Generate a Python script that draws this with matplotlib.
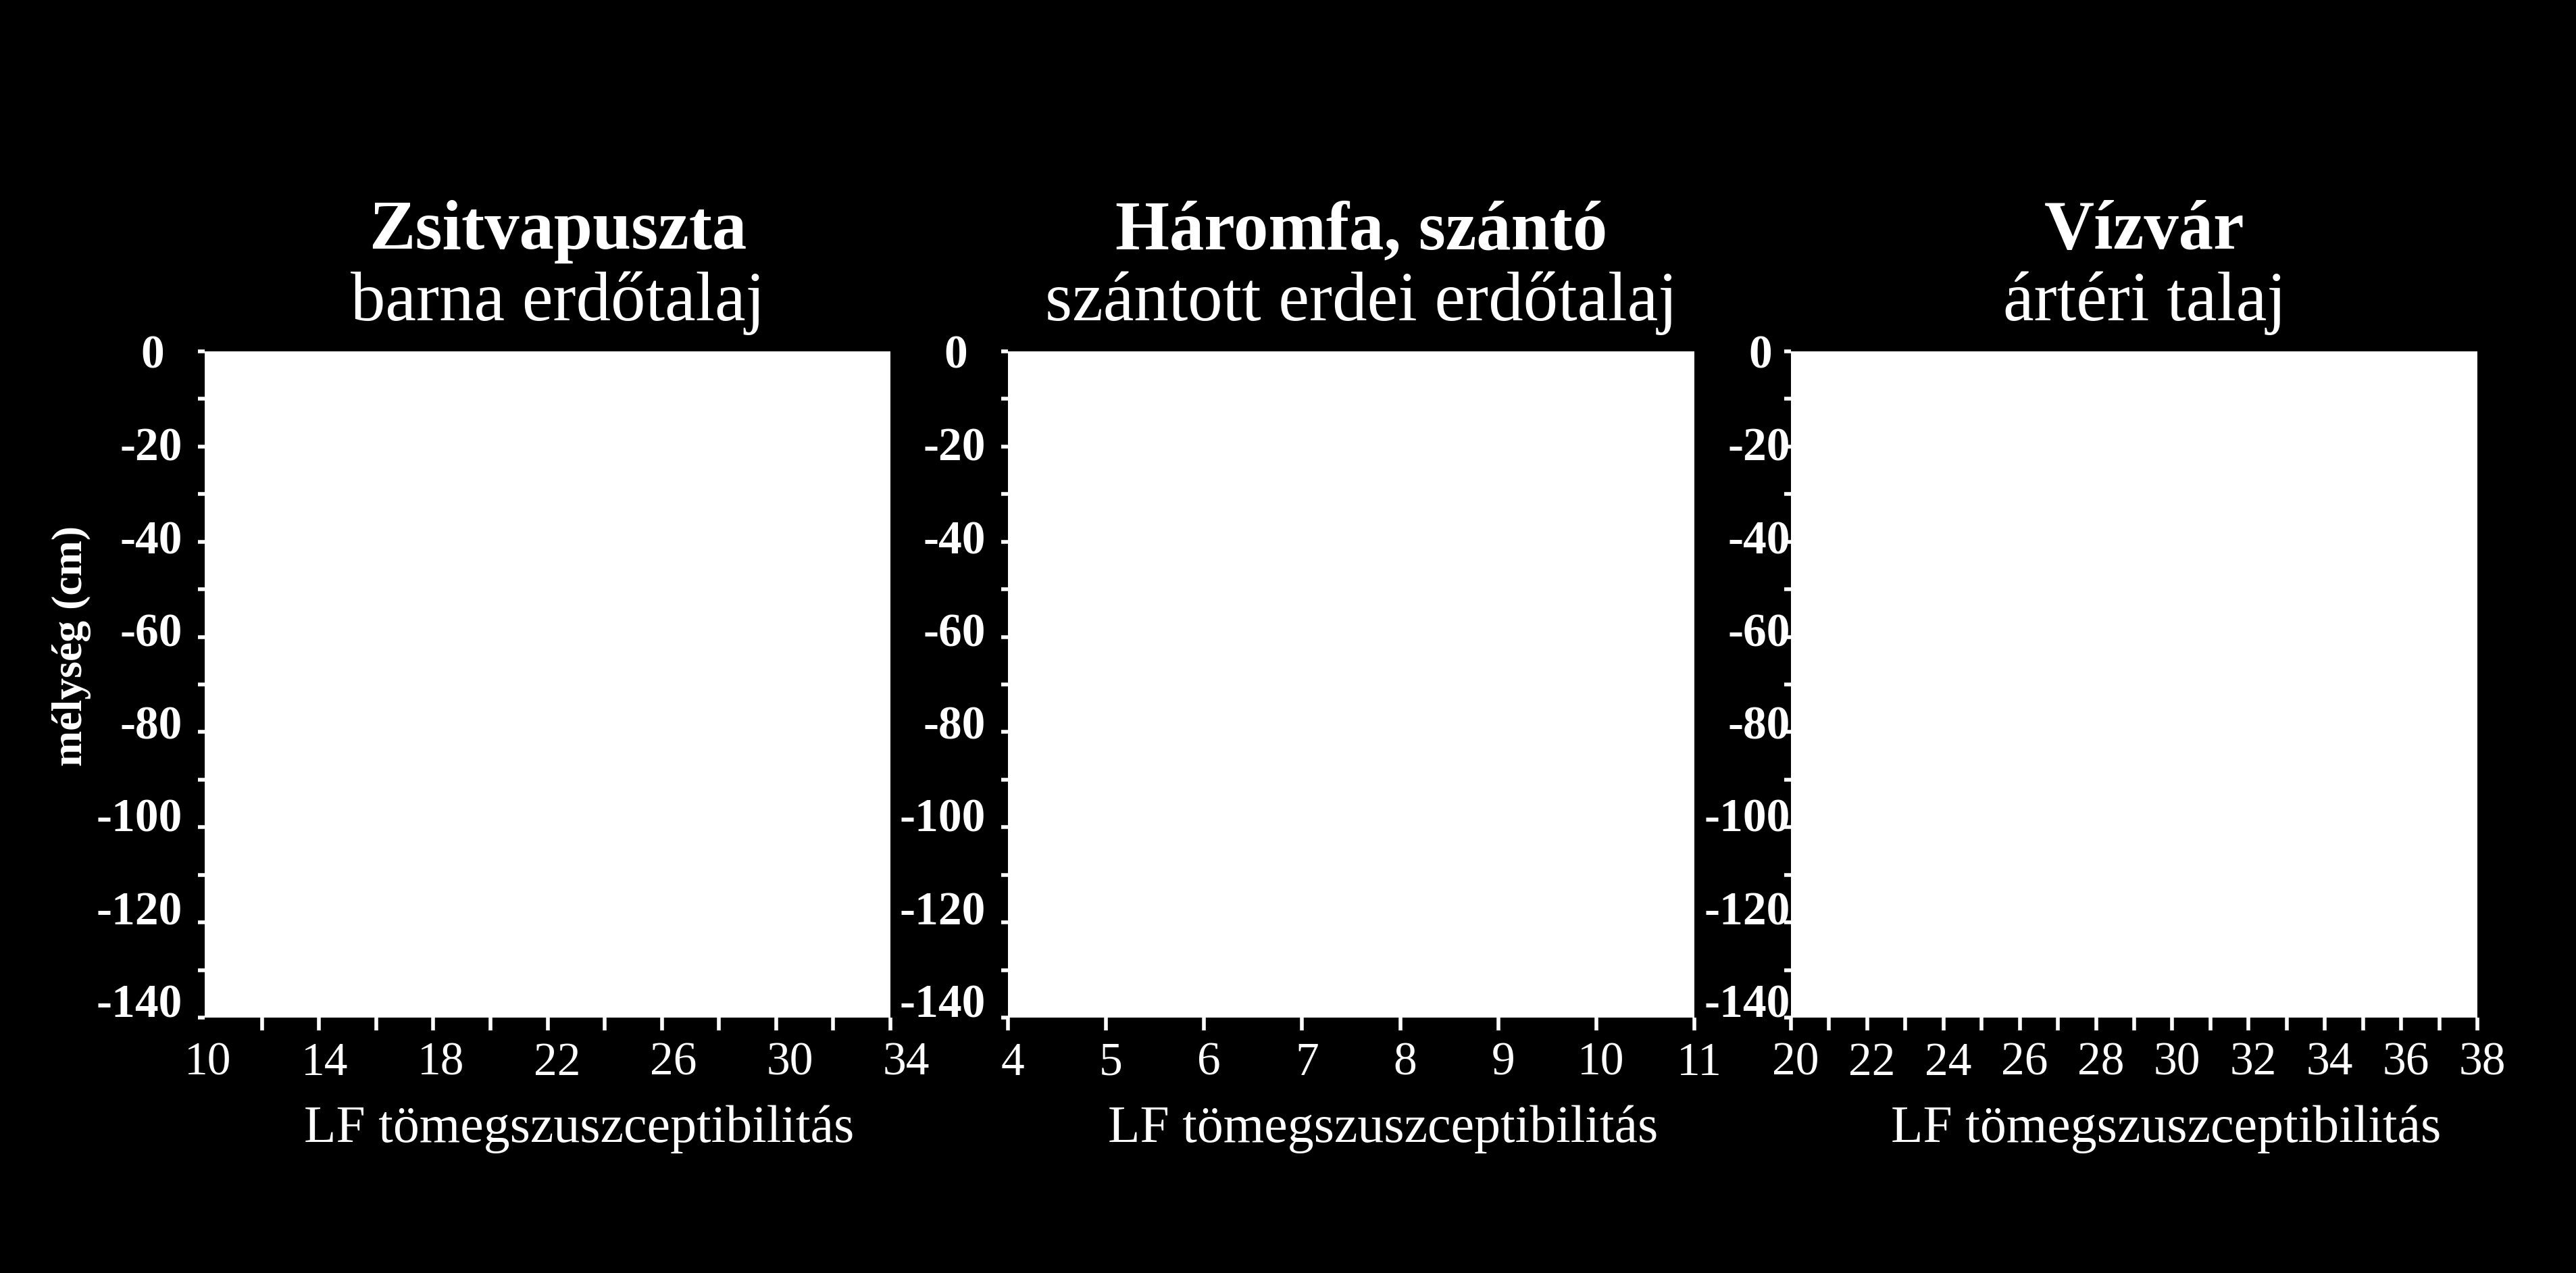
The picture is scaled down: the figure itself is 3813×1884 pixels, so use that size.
import matplotlib
matplotlib.use("Agg")
import matplotlib.pyplot as plt
from matplotlib.ticker import MultipleLocator
from matplotlib.transforms import ScaledTranslation

plt.rcParams['font.family'] = ['Liberation Serif', 'DejaVu Serif']

# panel texts and axis ranges
sites = ['Zsitvapuszta', 'Háromfa, szántó', 'Vízvár']
soils = ['barna erdőtalaj', 'szántott erdei erdőtalaj', 'ártéri talaj']
x_min = [10, 4, 20]
x_max = [34, 11, 38]
x_label_step = [4, 1, 2]
x_tick_step = [2, 1, 1]
depth_ticks = [0, -20, -40, -60, -80, -100, -120, -140]
depth_minor_step = 10
x_title = 'LF tömegszuszceptibilitás'
y_title = 'mélység (cm)'

W, H = 3813, 1884
fig = plt.figure(figsize=(W / 100, H / 100), dpi=100, facecolor='black')
px = 1 / 100  # one pixel in inches

# panel boxes in pixels: left, top, right, bottom
boxes = [(303, 520, 1318, 1506), (1492, 520, 2508, 1506), (2651, 520, 3667, 1506)]
ypads = [16.5, 16.5, -6.5]
# the labels of the original drift a little against their ticks (pixels, left / right end)
xdrift = [(5, 23), (7, 7), (7, 7)]
ydrift_bottom = 25


def shift(label, dx, dy):
    label.set_transform(label.get_transform()
                        + ScaledTranslation(dx * px, dy * px, fig.dpi_scale_trans))


for i in range(3):
    l, t, r, b = boxes[i]
    ax = fig.add_axes([l / W, 1 - b / H, (r - l) / W, (b - t) / H])
    ax.set_facecolor('white')
    for s in ax.spines.values():
        s.set_visible(False)

    ax.set_xlim(x_min[i], x_max[i])
    ax.set_ylim(depth_ticks[-1], depth_ticks[0])

    xt = list(range(x_min[i], x_max[i] + 1, x_label_step[i]))
    ax.set_xticks(xt, labels=[str(v) for v in xt])
    if x_tick_step[i] != x_label_step[i]:
        ax.xaxis.set_minor_locator(MultipleLocator(x_tick_step[i]))
    ax.set_yticks(depth_ticks, labels=[str(v) for v in depth_ticks],
                  fontweight='bold')
    ax.yaxis.set_minor_locator(MultipleLocator(depth_minor_step))

    ax.tick_params(axis='x', which='both', direction='out', length=13.7, width=4,
                   colors='white', labelsize=50, pad=12.5)
    ax.tick_params(axis='y', which='both', direction='out', length=7.2, width=4,
                   colors='white', labelsize=50, pad=ypads[i])

    xticks = ax.xaxis.get_major_ticks()
    d0, d1 = xdrift[i]
    for v, tk in zip(xt, xticks):
        frac = (v - x_min[i]) / (x_max[i] - x_min[i])
        shift(tk.label1, d0 + (d1 - d0) * frac, 0)
    if i == 0:
        xticks[0].tick1line.set_visible(False)

    yticks = ax.yaxis.get_major_ticks()
    for v, tk in zip(depth_ticks, yticks):
        dx = -27 if v == 0 else 0
        shift(tk.label1, dx, ydrift_bottom * v / depth_ticks[-1])

    ax.set_xlabel(x_title, fontsize=56, color='white', va='baseline')
    ax.xaxis.set_label_coords(0.546, -0.1866)

    ax.text(0.515, 1.154, sites[i], transform=ax.transAxes, ha='center', va='baseline',
            fontsize=74, fontweight='bold', color='white')
    ax.text(0.515, 1.0467, soils[i], transform=ax.transAxes, ha='center', va='baseline',
            fontsize=74, color='white')

    if i == 0:
        ax.set_ylabel(y_title, fontsize=46, fontweight='bold', color='white')
        ax.yaxis.set_label_coords(-0.1655, 0.5578)

fig.savefig('out.png', dpi=100, facecolor='black')
